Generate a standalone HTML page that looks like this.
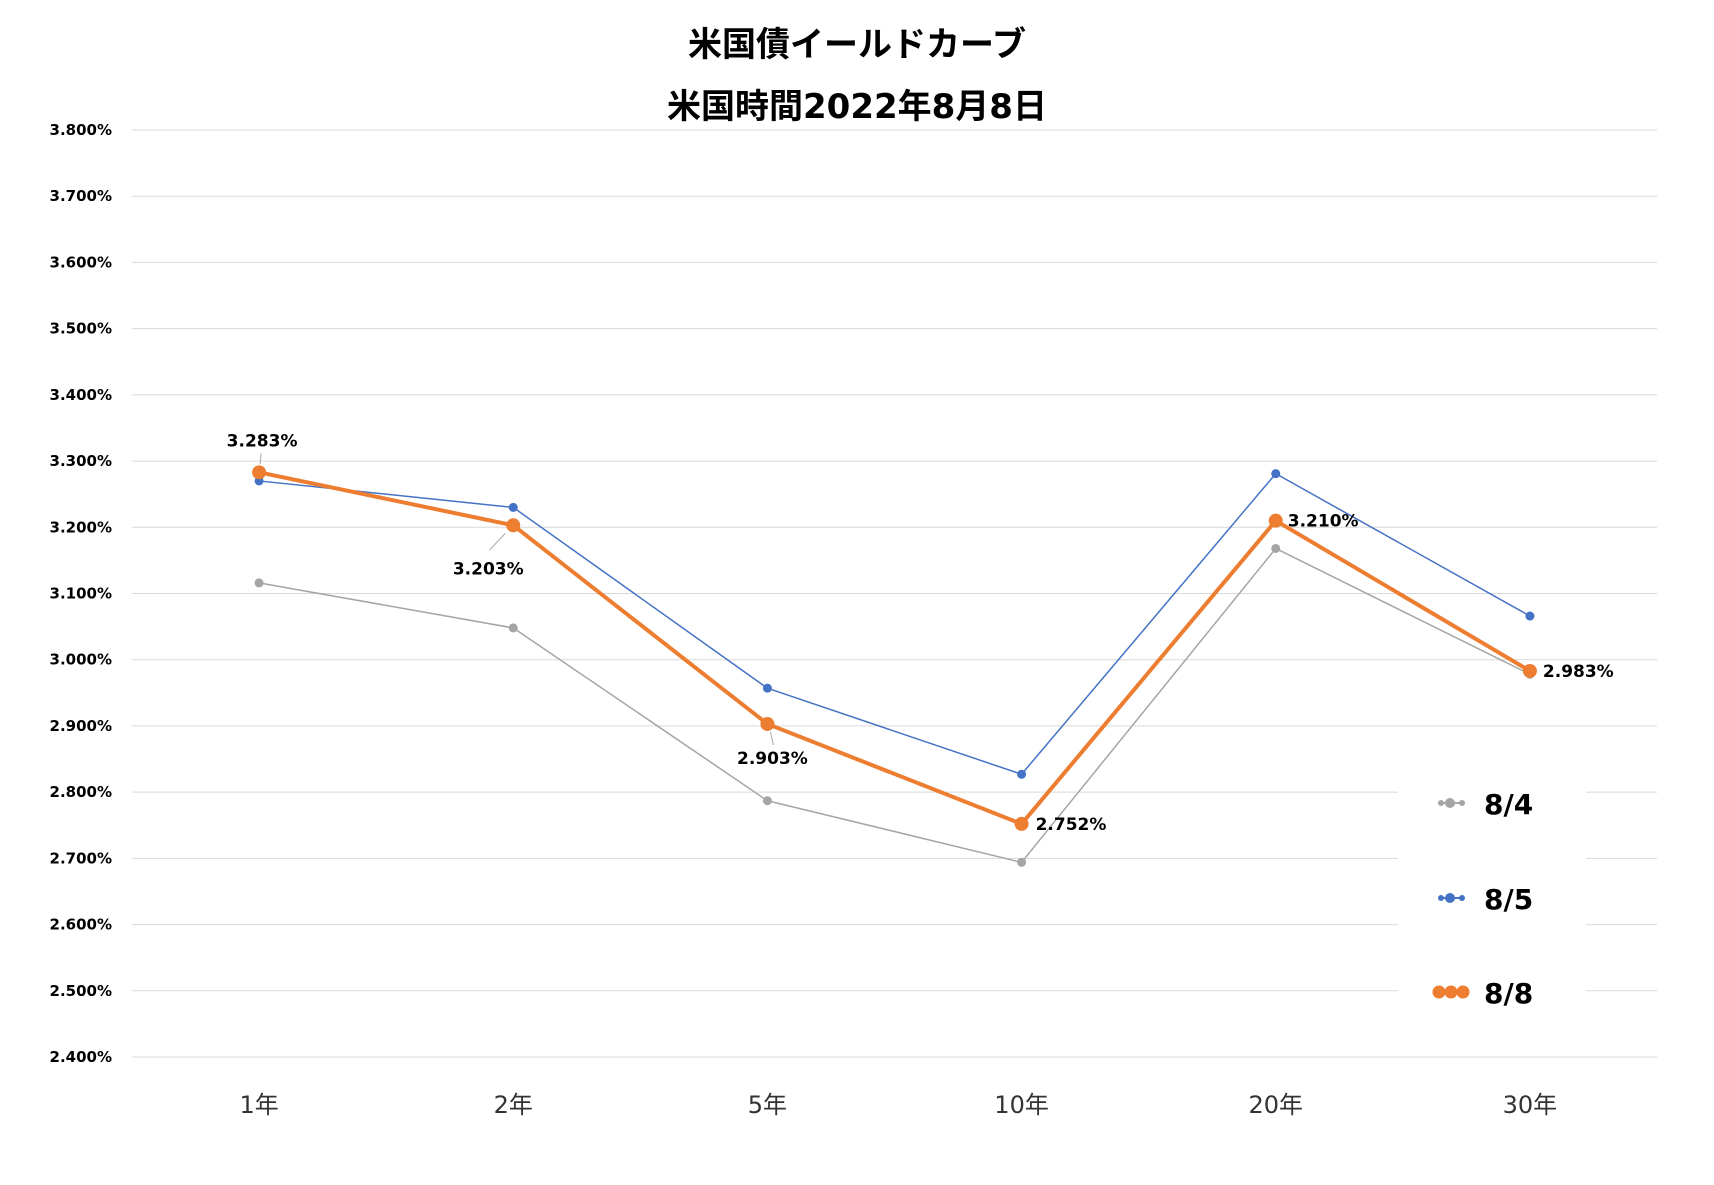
<!DOCTYPE html>
<html><head><meta charset="utf-8"><style>
body{margin:0;background:#fff;}
svg text{font-family:"DejaVu Sans","Noto Sans CJK JP",sans-serif;}
</style></head><body>
<svg id="chart" width="1714" height="1180" xmlns="http://www.w3.org/2000/svg">
<text x="857" y="56" text-anchor="middle" font-size="34" font-weight="bold" style="font-family:'Noto Sans CJK JP',sans-serif">米国債イールドカーブ</text>
<text x="857" y="118" text-anchor="middle" font-size="34" font-weight="bold">米国時間2022年8月8日</text>
<g id="grid"></g><g id="series"></g><g id="labels"></g>
<g>
<rect x="1398" y="770" width="188" height="270" fill="#fff"/>
<g><line x1="1440" y1="803" x2="1463" y2="803" stroke="#a5a5a5" stroke-width="2"/><circle cx="1441" cy="803" r="3" fill="#a5a5a5"/><circle cx="1450" cy="803" r="5" fill="#a5a5a5"/><circle cx="1462" cy="803" r="3" fill="#a5a5a5"/><text x="1484" y="814" font-size="28" font-weight="bold">8/4</text></g>
<g><line x1="1440" y1="898" x2="1463" y2="898" stroke="#4472c4" stroke-width="2"/><circle cx="1441" cy="898" r="3" fill="#4472c4"/><circle cx="1450" cy="898" r="5" fill="#4472c4"/><circle cx="1462" cy="898" r="3" fill="#4472c4"/><text x="1484" y="909" font-size="28" font-weight="bold">8/5</text></g>
<g><circle cx="1439" cy="992" r="6.5" fill="#ed7d31"/><circle cx="1451" cy="992" r="6.5" fill="#ed7d31"/><circle cx="1463" cy="992" r="6.5" fill="#ed7d31"/><text x="1484" y="1003" font-size="28" font-weight="bold">8/8</text></g>
</g>
</svg>
<script>
const categories=["1年","2年","5年","10年","20年","30年"];
const s84=[3.116,3.048,2.787,2.694,3.168,2.978];
const s85=[3.270,3.230,2.957,2.827,3.281,3.066];
const s88=[3.283,3.203,2.903,2.752,3.210,2.983];
const yTicks=[2.4,2.5,2.6,2.7,2.8,2.9,3.0,3.1,3.2,3.3,3.4,3.5,3.6,3.7,3.8];
const NS="http://www.w3.org/2000/svg";
const L=132,R=1657,T=130,B=1057,ymin=2.4,ymax=3.8;
const x=i=>L+(R-L)/categories.length*(i+0.5);
const y=v=>B-(v-ymin)/(ymax-ymin)*(B-T);
function mk(tag,at,parent,txt){const e=document.createElementNS(NS,tag);for(const k in at)e.setAttribute(k,at[k]);if(txt!==undefined)e.textContent=txt;document.getElementById(parent).appendChild(e);return e;}
yTicks.forEach(t=>{
 const g=mk('line',{x1:L,x2:R,y1:y(t),y2:y(t),stroke:'#d9d9d9','stroke-width':1},'grid');
 
 
 const tl=mk('text',{x:112,y:y(t)+5,'text-anchor':'end','font-size':15,'font-weight':'bold'},'grid',t.toFixed(3)+'%');
 
 
});
categories.forEach((c,i)=>{
 const t=mk('text',{x:x(i),y:1113,'text-anchor':'middle','font-size':24,fill:'#333'},'grid',c);
 
 
});
function series(d,color,w,r,name){
 const p=mk('polyline',{points:d.map((v,i)=>x(i)+','+y(v)).join(' '),fill:'none',stroke:color,'stroke-width':w,'stroke-linejoin':'round'},'series');
 
 
 d.forEach((v,i)=>{const c=mk('circle',{cx:x(i),cy:y(v),r:r,fill:color},'series');
 
 });
}
series(s84,'#a5a5a5',1.5,4.5,'series-8-4');
series(s85,'#4472c4',1.5,4.5,'series-8-5');
series(s88,'#ed7d31',4,7,'series-8-8');
const off=[[3,-26,'middle'],[-25,49,'middle'],[5,40,'middle'],[14,6,'start'],[12,6,'start'],[13,6,'start']];
const lead=[[1,-8,2,-19],[-8,8,-24,25],[3,8,6,21],null,null,null];
s88.forEach((v,i)=>{
 const o=off[i];
 if(lead[i]){const l=lead[i];
  const ln=mk('line',{x1:x(i)+l[0],y1:y(v)+l[1],x2:x(i)+l[2],y2:y(v)+l[3],stroke:'#a5a5a5','stroke-width':1},'labels');
  
  }
 const t=mk('text',{x:x(i)+o[0],y:y(v)+o[1],'text-anchor':o[2],'font-size':17,'font-weight':'bold'},'labels',v.toFixed(3)+'%');
 
 
});
</script>
</body></html>
